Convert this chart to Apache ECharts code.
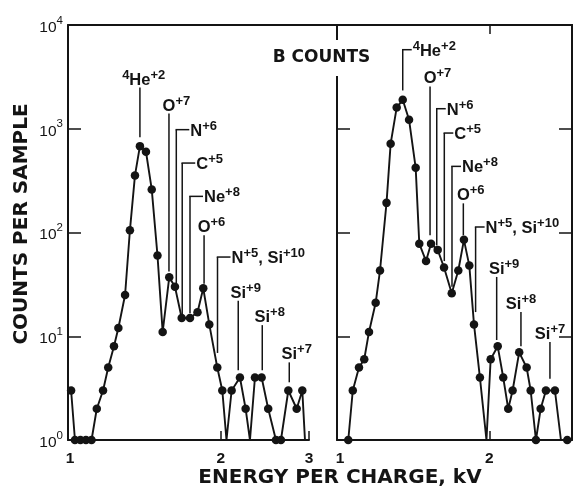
<!DOCTYPE html>
<html>
<head>
<meta charset="utf-8">
<script src="https://cdn.jsdelivr.net/npm/echarts@6/dist/echarts.min.js"></script>
<style>
  html, body { margin: 0; padding: 0; background: #fff; }
  #chart { width: 575px; height: 489px; }
</style>
</head>
<body>
<div id="chart"></div>
<script>
// Energy-per-charge spectra (kV) with counts per sample; 0 = no counts in that channel.
const leftEnergy = [1.005, 1.023, 1.049, 1.076, 1.104, 1.131, 1.164, 1.192, 1.224, 1.249, 1.288,
  1.317, 1.348, 1.379, 1.418, 1.456, 1.495, 1.531, 1.578, 1.620, 1.671, 1.736, 1.797, 1.845,
  1.897, 1.968, 2.014, 2.053, 2.102, 2.184, 2.242, 2.287, 2.340, 2.413, 2.487, 2.577, 2.637,
  2.728, 2.835, 2.909, 2.945];
const leftCounts = [3, 1, 1, 1, 1, 2, 3, 5, 8, 12, 25,
  105, 355, 680, 600, 260, 60, 11, 37, 30, 15, 15, 17, 29,
  13, 5, 3, 0, 3, 4, 2, 0, 4, 4, 2, 1, 1,
  3, 2, 3, 0];

const rightEnergy = [1.039, 1.061, 1.092, 1.119, 1.144, 1.180, 1.204, 1.241, 1.265, 1.301,
  1.338, 1.378, 1.421, 1.445, 1.491, 1.526, 1.574, 1.621, 1.680, 1.732, 1.778, 1.823, 1.863,
  1.915, 1.974, 2.013, 2.080, 2.134, 2.184, 2.229, 2.298, 2.379, 2.424, 2.484, 2.539, 2.602,
  2.713, 2.790, 2.873];
const rightCounts = [1, 3, 5, 6, 11, 21, 43, 193, 718, 1600,
  1900, 1220, 420, 78, 53, 78, 68, 46, 26, 43, 85, 48, 13,
  4, 0, 6, 8, 4, 2, 3, 7, 5, 3, 1, 2, 3,
  3, 0, 1];

// Ion identifications: label, expected E/Q, leader top and bottom (counts), leader kind
const leftIons = ['{4}He{+2}', 'O{+7}', 'N{+6}', 'C{+5}', 'Ne{+8}', 'O{+6}', 'N{+5}, Si{+10}', 'Si{+9}', 'Si{+8}', 'Si{+7}'];
const leftIonEnergy = [1.379, 1.576, 1.630, 1.675, 1.736, 1.852, 1.970, 2.167, 2.420, 2.740];
const leftIonTop = [2500, 1400, 980, 467, 223, 94, 58, 22, 12.8, 5.6];
const leftIonBottom = [826, 42, 32, 16.3, 16.7, 32, 6.9, 4.7, 4.7, 3.6];
const leftIonKind = ['above', 'above', 'elbow', 'elbow', 'elbow', 'above', 'elbow', 'above', 'above', 'above'];

const rightIons = ['{4}He{+2}', 'O{+7}', 'N{+6}', 'C{+5}', 'Ne{+8}', 'O{+6}', 'N{+5}, Si{+10}', 'Si{+9}', 'Si{+8}', 'Si{+7}'];
const rightIonEnergy = [1.338, 1.519, 1.567, 1.623, 1.682, 1.773, 1.877, 2.070, 2.317, 2.651];
const rightIonTop = [5780, 2560, 1560, 909, 434, 191, 113, 37.3, 17.1, 8.8];
const rightIonBottom = [2340, 94, 75, 53, 30, 94, 17.1, 9.2, 8, 3.9];
const rightIonKind = ['elbow', 'above', 'elbow', 'elbow', 'elbow', 'above', 'elbow', 'above', 'aboveRight', 'aboveRight'];

const xTickLabels = [1, 2, 3];
const xTickMarks = [2, 3];
const yMin = 1, yMax = 10000;

const INK = '#141414';
const LABEL_FONT = 'Liberation Sans';
const TITLE_FONT = 'DejaVu Sans';

// ---- helpers ----
function toSeriesData(energy, counts) {
  return energy.map((e, i) => counts[i] > 0
    ? [e, counts[i]]
    : { value: [e, yMin], symbol: 'none' });
}

function parseLabel(s) {
  const parts = [];
  const re = /\{([^}]*)\}|([^{]+)/g;
  let m;
  while ((m = re.exec(s))) {
    parts.push(m[1] !== undefined ? { sup: true, t: m[1] } : { sup: false, t: m[2] });
  }
  return parts;
}

const measureCtx = document.createElement('canvas').getContext('2d');
function textWidth(t, size) {
  measureCtx.font = 'bold ' + size + 'px "' + LABEL_FONT + '"';
  return measureCtx.measureText(t).width;
}

const MAIN_SIZE = 16.5, SUP_SIZE = 13;
const ionRich = {
  m: { fontSize: MAIN_SIZE, fontWeight: 'bold', fontFamily: LABEL_FONT, verticalAlign: 'bottom', fill: INK },
  s: { fontSize: SUP_SIZE, fontWeight: 'bold', fontFamily: LABEL_FONT, verticalAlign: 'bottom', padding: [0, 0, 7, 0], fill: INK }
};

function ionLeaders(names, kinds, stub) {
  return function (params, api) {
    const i = params.dataIndex;
    const e = api.value(0);
    const pTop = api.coord([e, api.value(1)]);
    const pBot = api.coord([e, api.value(2)]);
    const parts = parseLabel(names[i]);
    const richText = parts.map(p => '{' + (p.sup ? 's' : 'm') + '|' + p.t + '}').join('');
    const lineStyle = { stroke: INK, lineWidth: 1.5 };
    const children = [{
      type: 'line',
      shape: { x1: pTop[0], y1: pTop[1], x2: pBot[0], y2: pBot[1] },
      style: lineStyle
    }];
    let tx, ty, va;
    if (kinds[i] === 'elbow') {
      children.push({
        type: 'line',
        shape: { x1: pTop[0] - 0.75, y1: pTop[1], x2: pTop[0] + stub, y2: pTop[1] },
        style: lineStyle
      });
      tx = pTop[0] + stub + 1;
      ty = pTop[1];
      va = 'middle';
    } else {
      const mainIdx = parts.findIndex(p => !p.sup);
      let prefixW = 0;
      for (let k = 0; k < mainIdx; k++) prefixW += textWidth(parts[k].t, SUP_SIZE);
      const mainW = textWidth(parts[mainIdx].t, MAIN_SIZE);
      const frac = kinds[i] === 'aboveRight' ? 0.97 : 0.5;
      tx = pTop[0] - prefixW - mainW * frac;
      ty = pTop[1] + 1;
      va = 'bottom';
    }
    children.push({
      type: 'text',
      x: tx, y: ty,
      style: { text: richText, rich: ionRich, align: 'left', verticalAlign: va, fill: INK }
    });
    return { type: 'group', children: children };
  };
}

function yLabel(v) {
  const ex = Math.round(Math.log10(v));
  return '{b|10}{e|' + ex + '}';
}

// ---- axes ----
const axisLine = { show: true, onZero: false, lineStyle: { color: INK, width: 2 } };
const yTick = { show: true, inside: true, length: 13, lineStyle: { color: INK, width: 1.5 } };

function logY(gridIndex, position, withLabels) {
  return {
    gridIndex: gridIndex, type: 'log', logBase: 10, min: yMin, max: yMax, position: position,
    axisLine: axisLine, axisTick: yTick, splitLine: { show: false }, minorTick: { show: false },
    axisLabel: withLabels ? {
      show: true, margin: 5, formatter: yLabel,
      rich: {
        b: { fontSize: 15.5, fontFamily: LABEL_FONT, color: INK, verticalAlign: 'bottom' },
        e: { fontSize: 11.5, fontFamily: LABEL_FONT, color: INK, verticalAlign: 'bottom', padding: [0, 0, 9, 0] }
      }
    } : { show: false }
  };
}

function logX(gridIndex, position, min, max, withLabels) {
  return {
    gridIndex: gridIndex, type: 'log', logBase: 10, min: min, max: max, position: position,
    axisLine: axisLine, splitLine: { show: false }, minorTick: { show: false },
    axisTick: { show: true, inside: true, length: 9, customValues: xTickMarks, lineStyle: { color: INK, width: 1.5 } },
    axisLabel: withLabels ? {
      show: true, customValues: xTickLabels, margin: 11,
      fontSize: 15.5, fontWeight: 'bold', fontFamily: LABEL_FONT, color: INK,
      formatter: v => String(Math.round(v))
    } : { show: false }
  };
}

const chart = echarts.init(document.getElementById('chart'), null, { renderer: 'canvas' });

chart.setOption({
  backgroundColor: '#fff',
  animation: false,
  grid: [
    { left: 68, top: 25, width: 241, height: 415, containLabel: false },
    { left: 337, top: 25, width: 235, height: 415, containLabel: false },
    { left: 68, top: 25, width: 504, height: 415, containLabel: false }
  ],
  xAxis: [
    logX(0, 'bottom', 0.9908, 3, true),
    logX(1, 'bottom', 0.986, 2.937, true),
    Object.assign(logX(1, 'top', 0.986, 2.937, false), { axisTick: { show: true, inside: true, length: 9, customValues: [2], lineStyle: { color: INK, width: 1.5 } } }),
    { gridIndex: 2, type: 'value', min: 0, max: 1, position: 'top', axisLine: axisLine,
      axisTick: { show: false }, axisLabel: { show: false }, splitLine: { show: false } }
  ],
  yAxis: [
    logY(0, 'left', true),
    logY(1, 'left', false),
    logY(1, 'right', false),
    { gridIndex: 2, type: 'value', min: 0, max: 1, show: false }
  ],
  graphic: [
    {
      type: 'text', x: 340, y: 478, z: 100,
      style: { text: 'ENERGY PER CHARGE, kV', font: 'bold 20px "' + TITLE_FONT + '"', fill: INK, align: 'center', verticalAlign: 'middle' }
    },
    {
      type: 'text', x: 21.5, y: 224, rotation: Math.PI / 2, z: 100,
      style: { text: 'COUNTS PER SAMPLE', font: 'bold 20px "' + TITLE_FONT + '"', fill: INK, align: 'center', verticalAlign: 'middle' }
    },
    {
      type: 'text', x: 321.5, y: 58, z: 100,
      style: { text: 'B COUNTS', font: 'bold 17px "' + TITLE_FONT + '"', fill: INK, align: 'center', verticalAlign: 'middle',
        backgroundColor: '#fff', padding: [9, 3, 10, 3] }
    }
  ],
  series: [
    {
      type: 'line', xAxisIndex: 0, yAxisIndex: 0,
      data: toSeriesData(leftEnergy, leftCounts),
      symbol: 'circle', symbolSize: 8.5, showAllSymbol: true,
      lineStyle: { color: INK, width: 1.9 }, itemStyle: { color: INK },
      clip: false, z: 3
    },
    {
      type: 'line', xAxisIndex: 1, yAxisIndex: 1,
      data: toSeriesData(rightEnergy, rightCounts),
      symbol: 'circle', symbolSize: 8.5, showAllSymbol: true,
      lineStyle: { color: INK, width: 1.9 }, itemStyle: { color: INK },
      clip: false, z: 3
    },
    {
      type: 'custom', xAxisIndex: 0, yAxisIndex: 0, clip: false, z: 4,
      data: leftIonEnergy.map((e, i) => [e, leftIonTop[i], leftIonBottom[i]]),
      encode: { x: 0, y: [1, 2] },
      renderItem: ionLeaders(leftIons, leftIonKind, 13)
    },
    {
      type: 'custom', xAxisIndex: 1, yAxisIndex: 1, clip: false, z: 4,
      data: rightIonEnergy.map((e, i) => [e, rightIonTop[i], rightIonBottom[i]]),
      encode: { x: 0, y: [1, 2] },
      renderItem: ionLeaders(rightIons, rightIonKind, 9)
    }
  ]
});
</script>
</body>
</html>
